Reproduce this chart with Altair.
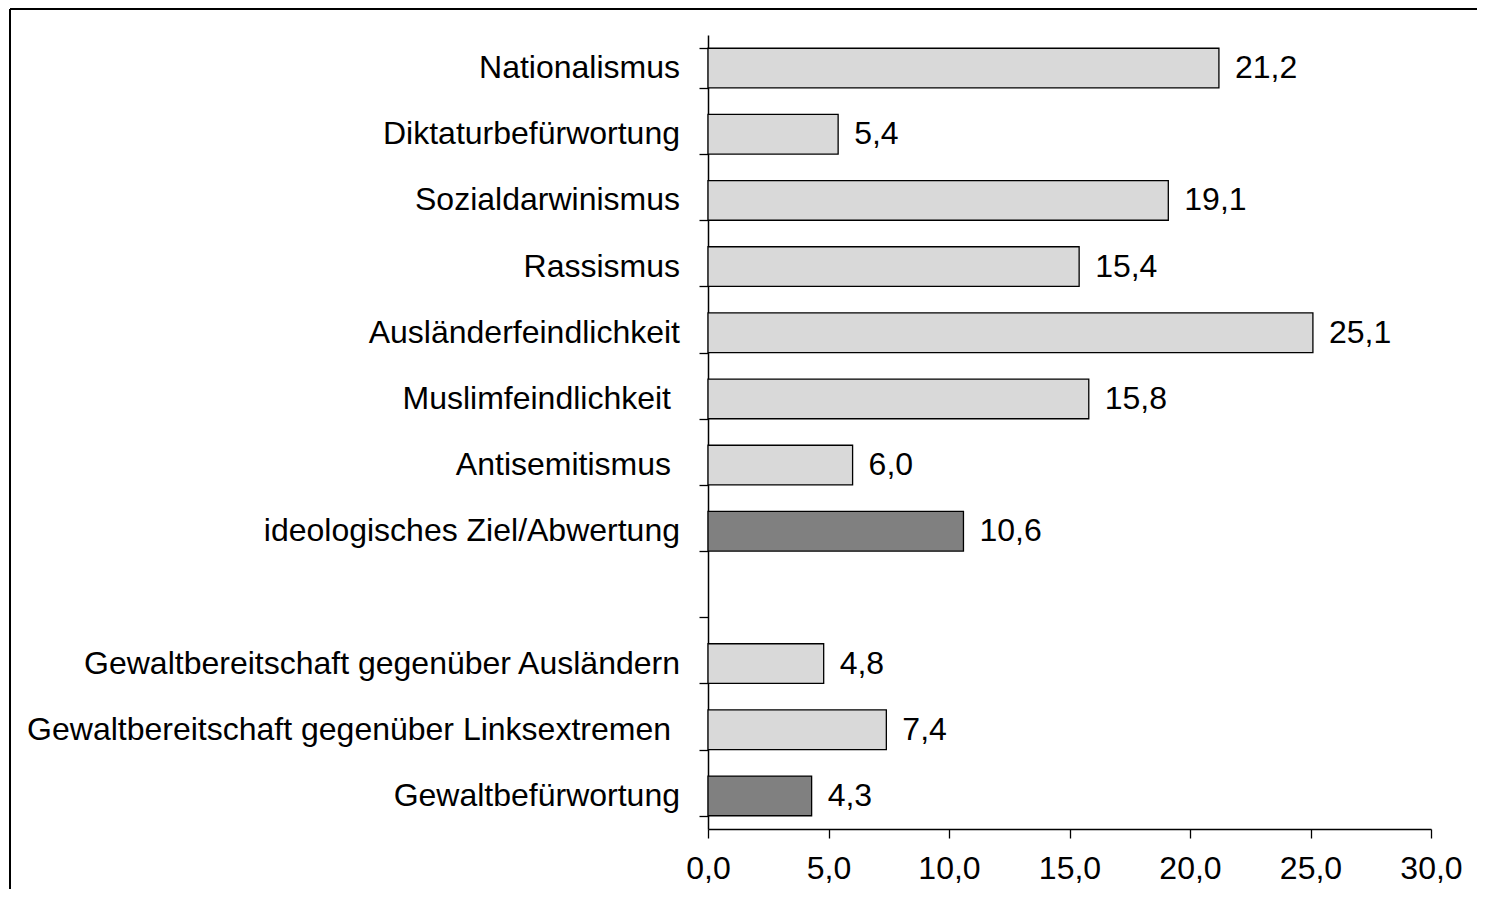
import altair as alt
import pandas as pd

categories = [
    "Nationalismus",
    "Diktaturbefürwortung",
    "Sozialdarwinismus",
    "Rassismus",
    "Ausländerfeindlichkeit",
    "Muslimfeindlichkeit\u00a0",
    "Antisemitismus\u00a0",
    "ideologisches Ziel/Abwertung",
    " ",
    "Gewaltbereitschaft gegenüber Ausländern",
    "Gewaltbereitschaft gegenüber Linksextremen\u00a0",
    "Gewaltbefürwortung",
]
values = [21.2, 5.4, 19.1, 15.4, 25.1, 15.8, 6.0, 10.6, None, 4.8, 7.4, 4.3]
groups = ["item", "item", "item", "item", "item", "item", "item", "summary",
          "blank", "item", "item", "summary"]
x_ticks = [0, 5, 10, 15, 20, 25, 30]

FONT = "Liberation Sans, Arial, Helvetica, sans-serif"
FS = 32

df = pd.DataFrame({"cat": categories, "v": values, "grp": groups})

W, H = 723, 794
PAD_L, PAD_T, PAD_R, PAD_B = 700, 27, 46, 60

base = alt.Chart(df)

y_enc = alt.Y(
    "cat:N",
    sort=categories,
    scale=alt.Scale(domain=categories, paddingInner=0.4, paddingOuter=0.2),
    axis=alt.Axis(
        title=None,
        tickBand="extent",
        tickSize=9,
        tickColor="black",
        tickWidth=1.3,
        domainColor="black",
        domainWidth=1.5,
        labels=False,
    ),
)

x_enc = alt.X(
    "v:Q",
    scale=alt.Scale(domain=[0, 30], nice=False),
    axis=alt.Axis(
        title=None,
        values=x_ticks,
        grid=False,
        tickSize=9,
        tickColor="black",
        tickWidth=1.3,
        domainColor="black",
        domainWidth=1.3,
        labelFont=FONT,
        labelFontSize=FS,
        labelColor="black",
        labelPadding=15,
        labelFlush=False,
        labelOverlap=False,
        labelExpr="replace(format(datum.value, '.1f'), '.', ',')",
    ),
)

bars = base.transform_filter("isValid(datum.v)").mark_bar(
    stroke="black", strokeWidth=1.3
).encode(
    x=x_enc,
    y=y_enc,
    color=alt.Color(
        "grp:N",
        scale=alt.Scale(domain=["item", "summary"], range=["#d9d9d9", "#808080"]),
        legend=None,
    ),
)

values_text = base.transform_filter("isValid(datum.v)").transform_calculate(
    lab="replace(format(datum.v, '.1f'), '.', ',')"
).mark_text(
    align="left", baseline="middle", dx=16, font=FONT, fontSize=FS, color="black"
).encode(
    x="v:Q",
    y=alt.Y("cat:N", sort=categories),
    text="lab:N",
)

cat_base = base.transform_calculate(
    lab="trim(datum.cat)",
    trail="indexof(datum.cat, '\u00a0') >= 0",
)
cat_plain = cat_base.transform_filter("!datum.trail").mark_text(
    align="right", baseline="middle", font=FONT, fontSize=FS, color="black"
).encode(
    x=alt.value(-28),
    y=alt.Y("cat:N", sort=categories),
    text="lab:N",
)
cat_trail = cat_base.transform_filter("datum.trail").mark_text(
    align="right", baseline="middle", font=FONT, fontSize=FS, color="black"
).encode(
    x=alt.value(-37),
    y=alt.Y("cat:N", sort=categories),
    text="lab:N",
)

frame_df = alt.Data(values=[{"k": 1}])
top_line = alt.Chart(frame_df).mark_rule(color="black", strokeWidth=2).encode(
    x=alt.value(-PAD_L + 2),
    x2=alt.value(W + PAD_R),
    y=alt.value(-PAD_T + 1),
)
left_line = alt.Chart(frame_df).mark_rule(color="black", strokeWidth=2).encode(
    x=alt.value(-PAD_L + 2),
    y=alt.value(-PAD_T + 1),
    y2=alt.value(H + PAD_B),
)

chart = alt.layer(bars, values_text, cat_plain, cat_trail, top_line, left_line).properties(
    width=W,
    height=H,
    autosize=alt.AutoSizeParams(type="none"),
    padding={"left": PAD_L, "top": PAD_T, "right": PAD_R, "bottom": PAD_B},
    background="white",
).configure_view(strokeWidth=0)

chart.save("out.html", embed_options={"renderer": "svg", "actions": False})
